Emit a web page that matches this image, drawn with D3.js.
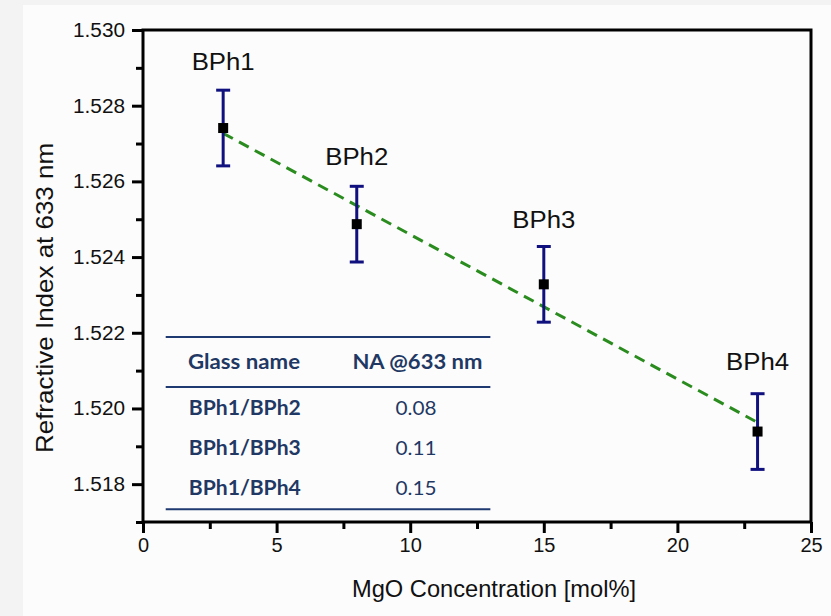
<!DOCTYPE html>
<html>
<head>
<meta charset="utf-8">
<script src="https://cdn.jsdelivr.net/npm/d3@7"></script>
<style>
  body { margin: 0; background: #f3f3f3; }
  text { font-family: Arial, "Liberation Sans", sans-serif; }
  .tbl text { font-family: Lato, "Open Sans", sans-serif; }
</style>
</head>
<body>
<div id="app"></div>
<script>
// Data
const glassNames = ['BPh1', 'BPh2', 'BPh3', 'BPh4'];
const mgo = [3, 8, 15, 23];
const refIndex = [1.52741, 1.52487, 1.52328, 1.51939];
const errs = [0.001, 0.001, 0.001, 0.001];
const fitX = [3, 23];
const fitY = [1.52727, 1.51963];
const xTicks = [0, 5, 10, 15, 20, 25];
const yTicks = [1.518, 1.520, 1.522, 1.524, 1.526, 1.528, 1.530];
const tablePairs = ['BPh1/BPh2', 'BPh1/BPh3', 'BPh1/BPh4'];
const tableNA = ['0.08', '0.11', '0.15'];

const width = 831;
const height = 616;
const margin = ({ top: 30, right: 20, bottom: 94, left: 143 });
const plotWidth = width - margin.left - margin.right;
const plotHeight = height - margin.top - margin.bottom;

const svg = d3.select('#app')
  .append('svg')
  .attr('width', width)
  .attr('height', height);

// page background
svg.append('rect')
  .attr('x', 23).attr('y', 5)
  .attr('width', width - 23).attr('height', height - 5)
  .attr('fill', '#fcfcfc');

const xScale = d3.scaleLinear().domain([0, 25]).range([0, plotWidth]);
const yScale = d3.scaleLinear().domain([1.517, 1.530]).range([plotHeight, 0]);

const plot = svg.append('g')
  .attr('transform', `translate(${margin.left}, ${margin.top})`);

// Minor ticks
const xMinor = d3.range(2.5, 25, 5);
const yMinor = d3.range(1.517, 1.5295, 0.002);
plot.append('g')
  .attr('transform', `translate(0, ${plotHeight})`)
  .call(d3.axisBottom(xScale).tickValues(xMinor).tickSize(7).tickFormat(''))
  .call((g) => g.select('.domain').remove())
  .selectAll('line').attr('stroke', '#000').attr('stroke-width', 3);
plot.append('g')
  .call(d3.axisLeft(yScale).tickValues(yMinor).tickSize(7).tickFormat(''))
  .call((g) => g.select('.domain').remove())
  .selectAll('line').attr('stroke', '#000').attr('stroke-width', 3);

// Major ticks
const xAxis = plot.append('g')
  .attr('transform', `translate(0, ${plotHeight})`)
  .call(d3.axisBottom(xScale).tickValues(xTicks).tickSize(11).tickPadding(5));
xAxis.select('.domain').remove();
xAxis.selectAll('line').attr('stroke', '#000').attr('stroke-width', 3);
xAxis.selectAll('text').attr('font-size', 20).attr('fill', '#111');

const yAxis = plot.append('g')
  .call(d3.axisLeft(yScale).tickValues(yTicks).tickSize(11).tickPadding(7)
    .tickFormat(d3.format('.3f')));
yAxis.select('.domain').remove();
yAxis.selectAll('line').attr('stroke', '#000').attr('stroke-width', 3);
yAxis.selectAll('text').attr('font-size', 20).attr('fill', '#111')
  .attr('textLength', 52).attr('lengthAdjust', 'spacingAndGlyphs');

// Frame
plot.append('rect')
  .attr('x', 0).attr('y', 0)
  .attr('width', plotWidth).attr('height', plotHeight)
  .attr('fill', 'none')
  .attr('stroke', '#000')
  .attr('stroke-width', 3);

// Table
const tbl = plot.append('g').attr('class', 'tbl');
const tx0 = xScale(0.85);
const tx1 = xScale(13.0);
const rowY = [1.52123, 1.52001, 1.51896, 1.51790];
const lineY = [1.52189, 1.52057, 1.51734];
tbl.selectAll('line')
  .data(lineY)
  .join('line')
  .attr('x1', tx0).attr('x2', tx1)
  .attr('y1', (d) => yScale(d)).attr('y2', (d) => yScale(d))
  .attr('stroke', '#1f3a70')
  .attr('stroke-width', 2);
tbl.append('text')
  .attr('x', xScale(3.78)).attr('y', yScale(rowY[0]))
  .attr('dy', '0.35em')
  .attr('text-anchor', 'middle')
  .attr('font-size', 20).attr('font-weight', 'bold')
  .attr('fill', '#1f3864')
  .attr('textLength', 112).attr('lengthAdjust', 'spacingAndGlyphs')
  .text('Glass name');
tbl.append('text')
  .attr('x', xScale(10.27)).attr('y', yScale(rowY[0]))
  .attr('dy', '0.35em')
  .attr('text-anchor', 'middle')
  .attr('font-size', 20).attr('font-weight', 'bold')
  .attr('fill', '#1f3864')
  .attr('textLength', 130).attr('lengthAdjust', 'spacingAndGlyphs')
  .text('NA @633 nm');
tbl.selectAll('.pair')
  .data(tablePairs)
  .join('text')
  .attr('class', 'pair')
  .attr('x', xScale(3.81))
  .attr('y', (d, i) => yScale(rowY[i + 1]))
  .attr('dy', '0.35em')
  .attr('text-anchor', 'middle')
  .attr('font-size', 20).attr('font-weight', 'bold')
  .attr('fill', '#1f3864')
  .attr('textLength', 112).attr('lengthAdjust', 'spacingAndGlyphs')
  .text((d) => d);
tbl.selectAll('.na')
  .data(tableNA)
  .join('text')
  .attr('class', 'na')
  .attr('x', xScale(10.22))
  .attr('y', (d, i) => yScale(rowY[i + 1]))
  .attr('dy', '0.35em')
  .attr('text-anchor', 'middle')
  .attr('font-size', 20)
  .attr('fill', '#1f3864')
  .attr('textLength', 41).attr('lengthAdjust', 'spacingAndGlyphs')
  .text((d) => d);

// Fit line
const line = d3.line()
  .x((d, i) => xScale(fitX[i]))
  .y((d) => yScale(d));
plot.append('path')
  .datum(fitY)
  .attr('d', line)
  .attr('fill', 'none')
  .attr('stroke', '#2a8c1e')
  .attr('stroke-width', 3)
  .attr('stroke-dasharray', '11 7');

// Error bars
const eb = plot.append('g').attr('stroke', '#10107f').attr('stroke-width', 3);
eb.selectAll('.v')
  .data(refIndex)
  .join('line')
  .attr('x1', (d, i) => xScale(mgo[i])).attr('x2', (d, i) => xScale(mgo[i]))
  .attr('y1', (d, i) => yScale(d + errs[i])).attr('y2', (d, i) => yScale(d - errs[i]));
['top', 'bot'].forEach((side) => {
  eb.selectAll(`.${side}`)
    .data(refIndex)
    .join('line')
    .attr('class', side)
    .attr('x1', (d, i) => xScale(mgo[i]) - 7).attr('x2', (d, i) => xScale(mgo[i]) + 7)
    .attr('y1', (d, i) => yScale(side === 'top' ? d + errs[i] : d - errs[i]))
    .attr('y2', (d, i) => yScale(side === 'top' ? d + errs[i] : d - errs[i]));
});

// Points
plot.selectAll('.pt')
  .data(refIndex)
  .join('rect')
  .attr('class', 'pt')
  .attr('x', (d, i) => xScale(mgo[i]) - 5)
  .attr('y', (d) => yScale(d) - 5)
  .attr('width', 10).attr('height', 10)
  .attr('fill', '#000');

// Point labels
const labelY = [1.52915, 1.52665, 1.52499, 1.52122];
plot.selectAll('.lbl')
  .data(glassNames)
  .join('text')
  .attr('class', 'lbl')
  .attr('x', (d, i) => xScale(mgo[i]))
  .attr('y', (d, i) => yScale(labelY[i]))
  .attr('dy', '0.35em')
  .attr('text-anchor', 'middle')
  .attr('font-size', 23)
  .attr('fill', '#111')
  .attr('textLength', 63).attr('lengthAdjust', 'spacingAndGlyphs')
  .text((d) => d);

// Axis titles
svg.append('text')
  .attr('x', 494)
  .attr('y', 597)
  .attr('text-anchor', 'middle')
  .attr('font-size', 24)
  .attr('fill', '#111')
  .attr('textLength', 284).attr('lengthAdjust', 'spacingAndGlyphs')
  .text('MgO Concentration [mol%]');
svg.append('text')
  .attr('transform', `translate(53, 298) rotate(-90)`)
  .attr('text-anchor', 'middle')
  .attr('font-size', 24)
  .attr('fill', '#111')
  .attr('textLength', 310).attr('lengthAdjust', 'spacingAndGlyphs')
  .text('Refractive Index at 633 nm');
</script>
</body>
</html>
